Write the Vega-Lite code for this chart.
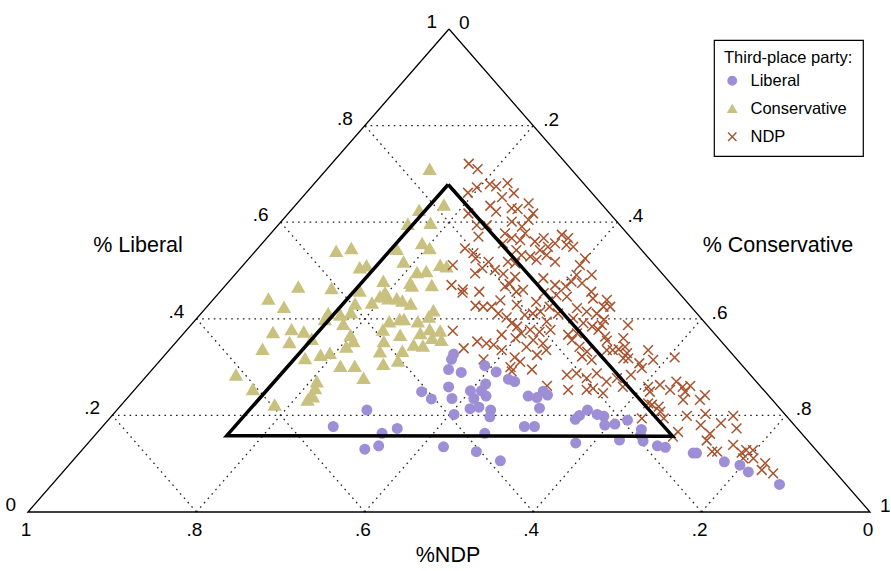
{
  "$schema": "https://vega.github.io/schema/vega-lite/v6.json",
  "width": 842,
  "height": 483,
  "autosize": {"type": "none"},
  "padding": {"left": 28, "top": 29, "right": 21, "bottom": 59},
  "background": "white",
  "config": {
    "view": {"stroke": null},
    "font": "Liberation Sans",
    "axis": {"disable": true},
    "legend": {
      "strokeColor": "black",
      "strokeWidth": 1.2,
      "fillColor": "white",
      "padding": 10,
      "titleFont": "Liberation Sans",
      "titleFontSize": 16.5,
      "titleFontWeight": "normal",
      "titleColor": "black",
      "titleLimit": 400,
      "labelFont": "Liberation Sans",
      "labelFontSize": 16.5,
      "labelColor": "black",
      "titlePadding": 6,
      "rowPadding": 11,
      "symbolSize": 70,
      "symbolStrokeWidth": 1.5,
      "labelOffset": 10
    }
  },
  "datasets": {
    "frame": [{"lib": 1, "con": 0, "o": 0}, {"lib": 0, "con": 0, "o": 1}, {"lib": 0, "con": 1, "o": 2}, {"lib": 1, "con": 0, "o": 3}],
    "region": [{"lib": 0.678, "con": 0.16, "o": 0}, {"lib": 0.158, "con": 0.157, "o": 1}, {"lib": 0.157, "con": 0.687, "o": 2}, {"lib": 0.678, "con": 0.16, "o": 3}],
    "grid": [
      {"l1": 0.2, "c1": 0, "l2": 0.2, "c2": 0.8}, {"l1": 0.4, "c1": 0, "l2": 0.4, "c2": 0.6}, {"l1": 0.6, "c1": 0, "l2": 0.6, "c2": 0.4}, {"l1": 0.8, "c1": 0, "l2": 0.8, "c2": 0.2},
      {"l1": 0, "c1": 0.2, "l2": 0.8, "c2": 0.2}, {"l1": 0, "c1": 0.4, "l2": 0.6, "c2": 0.4}, {"l1": 0, "c1": 0.6, "l2": 0.4, "c2": 0.6}, {"l1": 0, "c1": 0.8, "l2": 0.2, "c2": 0.8},
      {"l1": 0, "c1": 0.8, "l2": 0.8, "c2": 0}, {"l1": 0, "c1": 0.6, "l2": 0.6, "c2": 0}, {"l1": 0, "c1": 0.4, "l2": 0.4, "c2": 0}, {"l1": 0, "c1": 0.2, "l2": 0.2, "c2": 0}
    ],
    "leftTicks": [{"lib": 0, "t": "0"}, {"lib": 0.2, "t": ".2"}, {"lib": 0.4, "t": ".4"}, {"lib": 0.6, "t": ".6"}, {"lib": 0.8, "t": ".8"}, {"lib": 1, "t": "1"}],
    "rightTicks": [{"con": 0, "t": "0"}, {"con": 0.2, "t": ".2"}, {"con": 0.4, "t": ".4"}, {"con": 0.6, "t": ".6"}, {"con": 0.8, "t": ".8"}, {"con": 1, "t": "1"}],
    "bottomTicks": [{"ndp": 1, "t": "1"}, {"ndp": 0.8, "t": ".8"}, {"ndp": 0.6, "t": ".6"}, {"ndp": 0.4, "t": ".4"}, {"ndp": 0.2, "t": ".2"}, {"ndp": 0, "t": "0"}],
    "pts": [
      {"party": "Conservative", "lib": 0.710, "con": 0.122}, {"party": "Conservative", "lib": 0.636, "con": 0.176}, {"party": "Conservative", "lib": 0.625, "con": 0.152}, {"party": "Conservative", "lib": 0.596, "con": 0.153},
      {"party": "Conservative", "lib": 0.598, "con": 0.179}, {"party": "Conservative", "lib": 0.540, "con": 0.096}, {"party": "Conservative", "lib": 0.546, "con": 0.111}, {"party": "Conservative", "lib": 0.556, "con": 0.190},
      {"party": "Conservative", "lib": 0.546, "con": 0.204}, {"party": "Conservative", "lib": 0.544, "con": 0.166}, {"party": "Conservative", "lib": 0.506, "con": 0.141}, {"party": "Conservative", "lib": 0.510, "con": 0.147},
      {"party": "Conservative", "lib": 0.518, "con": 0.187}, {"party": "Conservative", "lib": 0.496, "con": 0.214}, {"party": "Conservative", "lib": 0.498, "con": 0.224}, {"party": "Conservative", "lib": 0.511, "con": 0.234},
      {"party": "Conservative", "lib": 0.508, "con": 0.243}, {"party": "Conservative", "lib": 0.478, "con": 0.183}, {"party": "Conservative", "lib": 0.474, "con": 0.217}, {"party": "Conservative", "lib": 0.469, "con": 0.245},
      {"party": "Conservative", "lib": 0.466, "con": 0.088}, {"party": "Conservative", "lib": 0.463, "con": 0.129}, {"party": "Conservative", "lib": 0.458, "con": 0.165}, {"party": "Conservative", "lib": 0.468, "con": 0.222},
      {"party": "Conservative", "lib": 0.441, "con": 0.065}, {"party": "Conservative", "lib": 0.424, "con": 0.092}, {"party": "Conservative", "lib": 0.431, "con": 0.173}, {"party": "Conservative", "lib": 0.433, "con": 0.192},
      {"party": "Conservative", "lib": 0.446, "con": 0.195}, {"party": "Conservative", "lib": 0.454, "con": 0.197}, {"party": "Conservative", "lib": 0.442, "con": 0.207}, {"party": "Conservative", "lib": 0.442, "con": 0.217},
      {"party": "Conservative", "lib": 0.437, "con": 0.226}, {"party": "Conservative", "lib": 0.431, "con": 0.239}, {"party": "Conservative", "lib": 0.411, "con": 0.151}, {"party": "Conservative", "lib": 0.399, "con": 0.153},
      {"party": "Conservative", "lib": 0.408, "con": 0.167}, {"party": "Conservative", "lib": 0.413, "con": 0.177}, {"party": "Conservative", "lib": 0.389, "con": 0.180}, {"party": "Conservative", "lib": 0.394, "con": 0.232},
      {"party": "Conservative", "lib": 0.399, "con": 0.242}, {"party": "Conservative", "lib": 0.399, "con": 0.247}, {"party": "Conservative", "lib": 0.394, "con": 0.266}, {"party": "Conservative", "lib": 0.404, "con": 0.274},
      {"party": "Conservative", "lib": 0.417, "con": 0.273}, {"party": "Conservative", "lib": 0.377, "con": 0.233}, {"party": "Conservative", "lib": 0.366, "con": 0.259}, {"party": "Conservative", "lib": 0.370, "con": 0.281},
      {"party": "Conservative", "lib": 0.378, "con": 0.288}, {"party": "Conservative", "lib": 0.375, "con": 0.302}, {"party": "Conservative", "lib": 0.360, "con": 0.300}, {"party": "Conservative", "lib": 0.356, "con": 0.313},
      {"party": "Conservative", "lib": 0.346, "con": 0.285}, {"party": "Conservative", "lib": 0.344, "con": 0.297}, {"party": "Conservative", "lib": 0.372, "con": 0.105}, {"party": "Conservative", "lib": 0.378, "con": 0.124},
      {"party": "Conservative", "lib": 0.373, "con": 0.141}, {"party": "Conservative", "lib": 0.351, "con": 0.135}, {"party": "Conservative", "lib": 0.358, "con": 0.158}, {"party": "Conservative", "lib": 0.337, "con": 0.110},
      {"party": "Conservative", "lib": 0.366, "con": 0.200}, {"party": "Conservative", "lib": 0.353, "con": 0.210}, {"party": "Conservative", "lib": 0.342, "con": 0.207}, {"party": "Conservative", "lib": 0.353, "con": 0.246},
      {"party": "Conservative", "lib": 0.332, "con": 0.252}, {"party": "Conservative", "lib": 0.333, "con": 0.278}, {"party": "Conservative", "lib": 0.313, "con": 0.283}, {"party": "Conservative", "lib": 0.306, "con": 0.269},
      {"party": "Conservative", "lib": 0.318, "con": 0.170}, {"party": "Conservative", "lib": 0.325, "con": 0.185}, {"party": "Conservative", "lib": 0.329, "con": 0.194}, {"party": "Conservative", "lib": 0.302, "con": 0.220},
      {"party": "Conservative", "lib": 0.302, "con": 0.237}, {"party": "Conservative", "lib": 0.277, "con": 0.260}, {"party": "Conservative", "lib": 0.284, "con": 0.105}, {"party": "Conservative", "lib": 0.254, "con": 0.140},
      {"party": "Conservative", "lib": 0.270, "con": 0.208}, {"party": "Conservative", "lib": 0.256, "con": 0.213}, {"party": "Conservative", "lib": 0.242, "con": 0.216}, {"party": "Conservative", "lib": 0.232, "con": 0.216},
      {"party": "Conservative", "lib": 0.239, "con": 0.219}, {"party": "Conservative", "lib": 0.222, "con": 0.182},
      {"party": "Liberal", "lib": 0.327, "con": 0.342}, {"party": "Liberal", "lib": 0.316, "con": 0.345}, {"party": "Liberal", "lib": 0.295, "con": 0.352}, {"party": "Liberal", "lib": 0.289, "con": 0.370},
      {"party": "Liberal", "lib": 0.303, "con": 0.391}, {"party": "Liberal", "lib": 0.290, "con": 0.411}, {"party": "Liberal", "lib": 0.275, "con": 0.433}, {"party": "Liberal", "lib": 0.270, "con": 0.443},
      {"party": "Liberal", "lib": 0.249, "con": 0.343}, {"party": "Liberal", "lib": 0.234, "con": 0.362}, {"party": "Liberal", "lib": 0.259, "con": 0.370}, {"party": "Liberal", "lib": 0.235, "con": 0.386},
      {"party": "Liberal", "lib": 0.251, "con": 0.400}, {"party": "Liberal", "lib": 0.235, "con": 0.412}, {"party": "Liberal", "lib": 0.251, "con": 0.413}, {"party": "Liberal", "lib": 0.265, "con": 0.411},
      {"party": "Liberal", "lib": 0.240, "con": 0.424}, {"party": "Liberal", "lib": 0.214, "con": 0.418}, {"party": "Liberal", "lib": 0.217, "con": 0.427}, {"party": "Liberal", "lib": 0.211, "con": 0.444},
      {"party": "Liberal", "lib": 0.197, "con": 0.450}, {"party": "Liberal", "lib": 0.202, "con": 0.405}, {"party": "Liberal", "lib": 0.211, "con": 0.297}, {"party": "Liberal", "lib": 0.177, "con": 0.274},
      {"party": "Liberal", "lib": 0.163, "con": 0.339}, {"party": "Liberal", "lib": 0.173, "con": 0.352}, {"party": "Liberal", "lib": 0.130, "con": 0.335}, {"party": "Liberal", "lib": 0.137, "con": 0.348},
      {"party": "Liberal", "lib": 0.135, "con": 0.426}, {"party": "Liberal", "lib": 0.163, "con": 0.461}, {"party": "Liberal", "lib": 0.125, "con": 0.470}, {"party": "Liberal", "lib": 0.106, "con": 0.508},
      {"party": "Liberal", "lib": 0.240, "con": 0.474}, {"party": "Liberal", "lib": 0.237, "con": 0.486}, {"party": "Liberal", "lib": 0.250, "con": 0.487}, {"party": "Liberal", "lib": 0.242, "con": 0.496},
      {"party": "Liberal", "lib": 0.215, "con": 0.500}, {"party": "Liberal", "lib": 0.177, "con": 0.501}, {"party": "Liberal", "lib": 0.177, "con": 0.513}, {"party": "Liberal", "lib": 0.192, "con": 0.554},
      {"party": "Liberal", "lib": 0.200, "con": 0.555}, {"party": "Liberal", "lib": 0.211, "con": 0.559}, {"party": "Liberal", "lib": 0.202, "con": 0.575}, {"party": "Liberal", "lib": 0.198, "con": 0.585},
      {"party": "Liberal", "lib": 0.180, "con": 0.595}, {"party": "Liberal", "lib": 0.182, "con": 0.606}, {"party": "Liberal", "lib": 0.190, "con": 0.617}, {"party": "Liberal", "lib": 0.171, "con": 0.643},
      {"party": "Liberal", "lib": 0.159, "con": 0.648}, {"party": "Liberal", "lib": 0.147, "con": 0.657}, {"party": "Liberal", "lib": 0.137, "con": 0.679}, {"party": "Liberal", "lib": 0.134, "con": 0.690},
      {"party": "Liberal", "lib": 0.149, "con": 0.628}, {"party": "Liberal", "lib": 0.143, "con": 0.579}, {"party": "Liberal", "lib": 0.122, "con": 0.729}, {"party": "Liberal", "lib": 0.122, "con": 0.733},
      {"party": "Liberal", "lib": 0.104, "con": 0.775}, {"party": "Liberal", "lib": 0.097, "con": 0.797}, {"party": "Liberal", "lib": 0.083, "con": 0.814}, {"party": "Liberal", "lib": 0.057, "con": 0.864},
      {"party": "NDP", "lib": 0.721, "con": 0.163}, {"party": "NDP", "lib": 0.710, "con": 0.179}, {"party": "NDP", "lib": 0.679, "con": 0.209}, {"party": "NDP", "lib": 0.674, "con": 0.219},
      {"party": "NDP", "lib": 0.681, "con": 0.229}, {"party": "NDP", "lib": 0.661, "con": 0.192}, {"party": "NDP", "lib": 0.672, "con": 0.197}, {"party": "NDP", "lib": 0.652, "con": 0.237},
      {"party": "NDP", "lib": 0.660, "con": 0.247}, {"party": "NDP", "lib": 0.634, "con": 0.232}, {"party": "NDP", "lib": 0.622, "con": 0.245}, {"party": "NDP", "lib": 0.629, "con": 0.260},
      {"party": "NDP", "lib": 0.627, "con": 0.268}, {"party": "NDP", "lib": 0.639, "con": 0.275}, {"party": "NDP", "lib": 0.618, "con": 0.291}, {"party": "NDP", "lib": 0.618, "con": 0.214},
      {"party": "NDP", "lib": 0.594, "con": 0.236}, {"party": "NDP", "lib": 0.570, "con": 0.250}, {"party": "NDP", "lib": 0.594, "con": 0.248}, {"party": "NDP", "lib": 0.601, "con": 0.274},
      {"party": "NDP", "lib": 0.591, "con": 0.291}, {"party": "NDP", "lib": 0.605, "con": 0.292}, {"party": "NDP", "lib": 0.577, "con": 0.278}, {"party": "NDP", "lib": 0.567, "con": 0.291},
      {"party": "NDP", "lib": 0.563, "con": 0.303}, {"party": "NDP", "lib": 0.577, "con": 0.302}, {"party": "NDP", "lib": 0.556, "con": 0.286}, {"party": "NDP", "lib": 0.542, "con": 0.309},
      {"party": "NDP", "lib": 0.560, "con": 0.322}, {"party": "NDP", "lib": 0.567, "con": 0.329}, {"party": "NDP", "lib": 0.549, "con": 0.343}, {"party": "NDP", "lib": 0.556, "con": 0.348},
      {"party": "NDP", "lib": 0.574, "con": 0.347}, {"party": "NDP", "lib": 0.567, "con": 0.358}, {"party": "NDP", "lib": 0.553, "con": 0.363}, {"party": "NDP", "lib": 0.549, "con": 0.373},
      {"party": "NDP", "lib": 0.542, "con": 0.337}, {"party": "NDP", "lib": 0.532, "con": 0.350}, {"party": "NDP", "lib": 0.518, "con": 0.367}, {"party": "NDP", "lib": 0.529, "con": 0.332},
      {"party": "NDP", "lib": 0.522, "con": 0.343}, {"party": "NDP", "lib": 0.532, "con": 0.320}, {"party": "NDP", "lib": 0.518, "con": 0.311}, {"party": "NDP", "lib": 0.515, "con": 0.321},
      {"party": "NDP", "lib": 0.546, "con": 0.246}, {"party": "NDP", "lib": 0.536, "con": 0.261}, {"party": "NDP", "lib": 0.525, "con": 0.269}, {"party": "NDP", "lib": 0.511, "con": 0.249},
      {"party": "NDP", "lib": 0.518, "con": 0.288}, {"party": "NDP", "lib": 0.494, "con": 0.284}, {"party": "NDP", "lib": 0.505, "con": 0.287}, {"party": "NDP", "lib": 0.501, "con": 0.304},
      {"party": "NDP", "lib": 0.493, "con": 0.318}, {"party": "NDP", "lib": 0.487, "con": 0.335}, {"party": "NDP", "lib": 0.470, "con": 0.268}, {"party": "NDP", "lib": 0.461, "con": 0.286},
      {"party": "NDP", "lib": 0.484, "con": 0.370}, {"party": "NDP", "lib": 0.470, "con": 0.391}, {"party": "NDP", "lib": 0.511, "con": 0.400}, {"party": "NDP", "lib": 0.525, "con": 0.399},
      {"party": "NDP", "lib": 0.491, "con": 0.424}, {"party": "NDP", "lib": 0.491, "con": 0.406}, {"party": "NDP", "lib": 0.477, "con": 0.407}, {"party": "NDP", "lib": 0.474, "con": 0.421},
      {"party": "NDP", "lib": 0.467, "con": 0.405}, {"party": "NDP", "lib": 0.454, "con": 0.289}, {"party": "NDP", "lib": 0.456, "con": 0.308}, {"party": "NDP", "lib": 0.427, "con": 0.318},
      {"party": "NDP", "lib": 0.425, "con": 0.328}, {"party": "NDP", "lib": 0.425, "con": 0.338}, {"party": "NDP", "lib": 0.438, "con": 0.342}, {"party": "NDP", "lib": 0.467, "con": 0.333},
      {"party": "NDP", "lib": 0.472, "con": 0.336}, {"party": "NDP", "lib": 0.456, "con": 0.352}, {"party": "NDP", "lib": 0.460, "con": 0.358}, {"party": "NDP", "lib": 0.429, "con": 0.366},
      {"party": "NDP", "lib": 0.411, "con": 0.353}, {"party": "NDP", "lib": 0.403, "con": 0.367}, {"party": "NDP", "lib": 0.391, "con": 0.379}, {"party": "NDP", "lib": 0.408, "con": 0.386},
      {"party": "NDP", "lib": 0.411, "con": 0.394}, {"party": "NDP", "lib": 0.415, "con": 0.401}, {"party": "NDP", "lib": 0.435, "con": 0.386}, {"party": "NDP", "lib": 0.453, "con": 0.386},
      {"party": "NDP", "lib": 0.449, "con": 0.403}, {"party": "NDP", "lib": 0.446, "con": 0.417}, {"party": "NDP", "lib": 0.456, "con": 0.441}, {"party": "NDP", "lib": 0.442, "con": 0.450},
      {"party": "NDP", "lib": 0.422, "con": 0.441}, {"party": "NDP", "lib": 0.415, "con": 0.456}, {"party": "NDP", "lib": 0.411, "con": 0.470}, {"party": "NDP", "lib": 0.425, "con": 0.471},
      {"party": "NDP", "lib": 0.425, "con": 0.407}, {"party": "NDP", "lib": 0.411, "con": 0.424}, {"party": "NDP", "lib": 0.394, "con": 0.419}, {"party": "NDP", "lib": 0.384, "con": 0.389},
      {"party": "NDP", "lib": 0.370, "con": 0.401}, {"party": "NDP", "lib": 0.377, "con": 0.408}, {"party": "NDP", "lib": 0.373, "con": 0.421}, {"party": "NDP", "lib": 0.377, "con": 0.432},
      {"party": "NDP", "lib": 0.356, "con": 0.422}, {"party": "NDP", "lib": 0.349, "con": 0.437}, {"party": "NDP", "lib": 0.335, "con": 0.448}, {"party": "NDP", "lib": 0.325, "con": 0.442},
      {"party": "NDP", "lib": 0.342, "con": 0.421}, {"party": "NDP", "lib": 0.360, "con": 0.399}, {"party": "NDP", "lib": 0.367, "con": 0.379}, {"party": "NDP", "lib": 0.353, "con": 0.357},
      {"party": "NDP", "lib": 0.349, "con": 0.370}, {"party": "NDP", "lib": 0.346, "con": 0.380}, {"party": "NDP", "lib": 0.335, "con": 0.395}, {"party": "NDP", "lib": 0.375, "con": 0.317},
      {"party": "NDP", "lib": 0.339, "con": 0.348}, {"party": "NDP", "lib": 0.316, "con": 0.383}, {"party": "NDP", "lib": 0.320, "con": 0.418}, {"party": "NDP", "lib": 0.311, "con": 0.429},
      {"party": "NDP", "lib": 0.300, "con": 0.423}, {"party": "NDP", "lib": 0.291, "con": 0.429}, {"party": "NDP", "lib": 0.295, "con": 0.451}, {"party": "NDP", "lib": 0.261, "con": 0.486},
      {"party": "NDP", "lib": 0.367, "con": 0.458}, {"party": "NDP", "lib": 0.356, "con": 0.468}, {"party": "NDP", "lib": 0.370, "con": 0.467}, {"party": "NDP", "lib": 0.342, "con": 0.484},
      {"party": "NDP", "lib": 0.332, "con": 0.498}, {"party": "NDP", "lib": 0.322, "con": 0.497}, {"party": "NDP", "lib": 0.315, "con": 0.512}, {"party": "NDP", "lib": 0.284, "con": 0.498},
      {"party": "NDP", "lib": 0.287, "con": 0.508}, {"party": "NDP", "lib": 0.277, "con": 0.525}, {"party": "NDP", "lib": 0.287, "con": 0.532}, {"party": "NDP", "lib": 0.270, "con": 0.552},
      {"party": "NDP", "lib": 0.253, "con": 0.515}, {"party": "NDP", "lib": 0.253, "con": 0.537}, {"party": "NDP", "lib": 0.256, "con": 0.543}, {"party": "NDP", "lib": 0.246, "con": 0.560},
      {"party": "NDP", "lib": 0.377, "con": 0.489}, {"party": "NDP", "lib": 0.363, "con": 0.504}, {"party": "NDP", "lib": 0.384, "con": 0.478}, {"party": "NDP", "lib": 0.391, "con": 0.464},
      {"party": "NDP", "lib": 0.401, "con": 0.447}, {"party": "NDP", "lib": 0.439, "con": 0.468}, {"party": "NDP", "lib": 0.425, "con": 0.479}, {"party": "NDP", "lib": 0.398, "con": 0.485},
      {"party": "NDP", "lib": 0.387, "con": 0.488}, {"party": "NDP", "lib": 0.387, "con": 0.519}, {"party": "NDP", "lib": 0.355, "con": 0.510}, {"party": "NDP", "lib": 0.335, "con": 0.520},
      {"party": "NDP", "lib": 0.335, "con": 0.527}, {"party": "NDP", "lib": 0.337, "con": 0.533}, {"party": "NDP", "lib": 0.360, "con": 0.527}, {"party": "NDP", "lib": 0.342, "con": 0.538},
      {"party": "NDP", "lib": 0.329, "con": 0.547}, {"party": "NDP", "lib": 0.318, "con": 0.548}, {"party": "NDP", "lib": 0.318, "con": 0.554}, {"party": "NDP", "lib": 0.335, "con": 0.569},
      {"party": "NDP", "lib": 0.315, "con": 0.585}, {"party": "NDP", "lib": 0.320, "con": 0.608}, {"party": "NDP", "lib": 0.308, "con": 0.572}, {"party": "NDP", "lib": 0.298, "con": 0.580},
      {"party": "NDP", "lib": 0.284, "con": 0.574}, {"party": "NDP", "lib": 0.277, "con": 0.561}, {"party": "NDP", "lib": 0.259, "con": 0.577}, {"party": "NDP", "lib": 0.259, "con": 0.607},
      {"party": "NDP", "lib": 0.249, "con": 0.614}, {"party": "NDP", "lib": 0.263, "con": 0.619}, {"party": "NDP", "lib": 0.253, "con": 0.636}, {"party": "NDP", "lib": 0.270, "con": 0.635},
      {"party": "NDP", "lib": 0.259, "con": 0.648}, {"party": "NDP", "lib": 0.261, "con": 0.656}, {"party": "NDP", "lib": 0.249, "con": 0.656}, {"party": "NDP", "lib": 0.232, "con": 0.662},
      {"party": "NDP", "lib": 0.242, "con": 0.683}, {"party": "NDP", "lib": 0.232, "con": 0.682}, {"party": "NDP", "lib": 0.222, "con": 0.630}, {"party": "NDP", "lib": 0.218, "con": 0.640},
      {"party": "NDP", "lib": 0.208, "con": 0.647}, {"party": "NDP", "lib": 0.194, "con": 0.632}, {"party": "NDP", "lib": 0.194, "con": 0.658}, {"party": "NDP", "lib": 0.199, "con": 0.683},
      {"party": "NDP", "lib": 0.203, "con": 0.703}, {"party": "NDP", "lib": 0.199, "con": 0.738}, {"party": "NDP", "lib": 0.180, "con": 0.709}, {"party": "NDP", "lib": 0.184, "con": 0.731},
      {"party": "NDP", "lib": 0.173, "con": 0.755}, {"party": "NDP", "lib": 0.166, "con": 0.689}, {"party": "NDP", "lib": 0.156, "con": 0.688}, {"party": "NDP", "lib": 0.162, "con": 0.729},
      {"party": "NDP", "lib": 0.148, "con": 0.732}, {"party": "NDP", "lib": 0.125, "con": 0.750}, {"party": "NDP", "lib": 0.125, "con": 0.756}, {"party": "NDP", "lib": 0.139, "con": 0.768},
      {"party": "NDP", "lib": 0.123, "con": 0.786}, {"party": "NDP", "lib": 0.128, "con": 0.789}, {"party": "NDP", "lib": 0.128, "con": 0.797}, {"party": "NDP", "lib": 0.111, "con": 0.794},
      {"party": "NDP", "lib": 0.111, "con": 0.806}, {"party": "NDP", "lib": 0.101, "con": 0.825}, {"party": "NDP", "lib": 0.087, "con": 0.828}, {"party": "NDP", "lib": 0.080, "con": 0.845},
      {"party": "NDP", "lib": 0.225, "con": 0.624}
    ]
  },
  "layer": [
    {
      "data": {"name": "grid"},
      "transform": [
        {"calculate": "datum.c1 + datum.l1 / 2", "as": "x1"},
        {"calculate": "datum.l1", "as": "y1"},
        {"calculate": "datum.c2 + datum.l2 / 2", "as": "x2"},
        {"calculate": "datum.l2", "as": "y2"}
      ],
      "mark": {"type": "rule", "color": "#222222", "strokeWidth": 1.3, "strokeDash": [1.6, 4.2]},
      "encoding": {
        "x": {"field": "x1", "type": "quantitative", "scale": {"domain": [0, 1], "nice": false, "zero": false}, "axis": null},
        "y": {"field": "y1", "type": "quantitative", "scale": {"domain": [0, 1], "nice": false, "zero": false}, "axis": null},
        "x2": {"field": "x2"},
        "y2": {"field": "y2"}
      }
    },
    {
      "data": {"name": "frame"},
      "transform": [
        {"calculate": "datum.con + datum.lib / 2", "as": "x"},
        {"calculate": "datum.lib", "as": "y"}
      ],
      "mark": {"type": "line", "color": "black", "strokeWidth": 1.3},
      "encoding": {
        "x": {"field": "x", "type": "quantitative"},
        "y": {"field": "y", "type": "quantitative"},
        "order": {"field": "o", "type": "quantitative"}
      }
    },
    {
      "data": {"name": "pts"},
      "transform": [
        {"filter": "datum.party === 'Conservative'"},
        {"calculate": "datum.con + datum.lib / 2", "as": "x"},
        {"calculate": "datum.lib", "as": "y"}
      ],
      "mark": {"type": "point", "filled": true, "opacity": 1, "strokeWidth": 1.5, "size": 140},
      "encoding": {
        "x": {"field": "x", "type": "quantitative"},
        "y": {"field": "y", "type": "quantitative"},
        "fill": {"field": "party", "type": "nominal", "title": "Third-place party:",
          "scale": {"domain": ["Liberal", "Conservative", "NDP"], "range": ["#9d8ed6", "#c9c17f", "#a8532e"]},
          "legend": {"orient": "none", "legendX": 686, "legendY": 11}},
        "stroke": {"field": "party", "type": "nominal", "title": "Third-place party:",
          "scale": {"domain": ["Liberal", "Conservative", "NDP"], "range": ["#9d8ed6", "#c9c17f", "#a8532e"]},
          "legend": {"orient": "none", "legendX": 686, "legendY": 11}},
        "shape": {"field": "party", "type": "nominal", "title": "Third-place party:",
          "scale": {"domain": ["Liberal", "Conservative", "NDP"], "range": ["circle", "triangle-up", "M-1,-1L1,1M-1,1L1,-1"]},
          "legend": {"orient": "none", "legendX": 686, "legendY": 11}}
      }
    },
    {
      "data": {"name": "pts"},
      "transform": [
        {"filter": "datum.party === 'NDP'"},
        {"calculate": "datum.con + datum.lib / 2", "as": "x"},
        {"calculate": "datum.lib", "as": "y"}
      ],
      "mark": {"type": "point", "filled": true, "opacity": 1, "strokeWidth": 1.5, "size": 95},
      "encoding": {
        "x": {"field": "x", "type": "quantitative"},
        "y": {"field": "y", "type": "quantitative"},
        "fill": {"field": "party", "type": "nominal", "title": "Third-place party:",
          "scale": {"domain": ["Liberal", "Conservative", "NDP"], "range": ["#9d8ed6", "#c9c17f", "#a8532e"]},
          "legend": {"orient": "none", "legendX": 686, "legendY": 11}},
        "stroke": {"field": "party", "type": "nominal", "title": "Third-place party:",
          "scale": {"domain": ["Liberal", "Conservative", "NDP"], "range": ["#9d8ed6", "#c9c17f", "#a8532e"]},
          "legend": {"orient": "none", "legendX": 686, "legendY": 11}},
        "shape": {"field": "party", "type": "nominal", "title": "Third-place party:",
          "scale": {"domain": ["Liberal", "Conservative", "NDP"], "range": ["circle", "triangle-up", "M-1,-1L1,1M-1,1L1,-1"]},
          "legend": {"orient": "none", "legendX": 686, "legendY": 11}}
      }
    },
    {
      "data": {"name": "pts"},
      "transform": [
        {"filter": "datum.party === 'Liberal'"},
        {"calculate": "datum.con + datum.lib / 2", "as": "x"},
        {"calculate": "datum.lib", "as": "y"}
      ],
      "mark": {"type": "point", "filled": true, "opacity": 1, "strokeWidth": 1.5, "size": 90},
      "encoding": {
        "x": {"field": "x", "type": "quantitative"},
        "y": {"field": "y", "type": "quantitative"},
        "fill": {"field": "party", "type": "nominal", "title": "Third-place party:",
          "scale": {"domain": ["Liberal", "Conservative", "NDP"], "range": ["#9d8ed6", "#c9c17f", "#a8532e"]},
          "legend": {"orient": "none", "legendX": 686, "legendY": 11}},
        "stroke": {"field": "party", "type": "nominal", "title": "Third-place party:",
          "scale": {"domain": ["Liberal", "Conservative", "NDP"], "range": ["#9d8ed6", "#c9c17f", "#a8532e"]},
          "legend": {"orient": "none", "legendX": 686, "legendY": 11}},
        "shape": {"field": "party", "type": "nominal", "title": "Third-place party:",
          "scale": {"domain": ["Liberal", "Conservative", "NDP"], "range": ["circle", "triangle-up", "M-1,-1L1,1M-1,1L1,-1"]},
          "legend": {"orient": "none", "legendX": 686, "legendY": 11}}
      }
    },
    {
      "data": {"name": "region"},
      "transform": [
        {"calculate": "datum.con + datum.lib / 2", "as": "x"},
        {"calculate": "datum.lib", "as": "y"}
      ],
      "mark": {"type": "line", "color": "black", "strokeWidth": 3.5, "strokeJoin": "miter"},
      "encoding": {
        "x": {"field": "x", "type": "quantitative"},
        "y": {"field": "y", "type": "quantitative"},
        "order": {"field": "o", "type": "quantitative"}
      }
    },
    {
      "data": {"name": "leftTicks"},
      "transform": [
        {"calculate": "datum.lib / 2", "as": "x"},
        {"calculate": "datum.lib", "as": "y"}
      ],
      "mark": {"type": "text", "align": "right", "baseline": "middle", "dx": -12, "dy": -7, "fontSize": 19, "font": "Liberation Sans", "color": "black"},
      "encoding": {
        "x": {"field": "x", "type": "quantitative"},
        "y": {"field": "y", "type": "quantitative"},
        "text": {"field": "t"}
      }
    },
    {
      "data": {"name": "rightTicks"},
      "transform": [
        {"calculate": "datum.con + (1 - datum.con) / 2", "as": "x"},
        {"calculate": "1 - datum.con", "as": "y"}
      ],
      "mark": {"type": "text", "align": "left", "baseline": "middle", "dx": 10, "dy": -6, "fontSize": 19, "font": "Liberation Sans", "color": "black"},
      "encoding": {
        "x": {"field": "x", "type": "quantitative"},
        "y": {"field": "y", "type": "quantitative"},
        "text": {"field": "t"}
      }
    },
    {
      "data": {"name": "bottomTicks"},
      "transform": [
        {"calculate": "1 - datum.ndp", "as": "x"},
        {"calculate": "0", "as": "y"}
      ],
      "mark": {"type": "text", "align": "center", "baseline": "middle", "dx": -2, "dy": 18, "fontSize": 19, "font": "Liberation Sans", "color": "black"},
      "encoding": {
        "x": {"field": "x", "type": "quantitative"},
        "y": {"field": "y", "type": "quantitative"},
        "text": {"field": "t"}
      }
    },
    {
      "data": {"values": [{}]},
      "mark": {"type": "text", "align": "center", "baseline": "middle", "fontSize": 21.5, "font": "Liberation Sans", "color": "black"},
      "encoding": {
        "x": {"datum": 0.1306, "type": "quantitative"},
        "y": {"datum": 0.5507, "type": "quantitative"},
        "text": {"value": "% Liberal"}
      }
    },
    {
      "data": {"values": [{}]},
      "mark": {"type": "text", "align": "center", "baseline": "middle", "fontSize": 21.5, "font": "Liberation Sans", "color": "black"},
      "encoding": {
        "x": {"datum": 0.8907, "type": "quantitative"},
        "y": {"datum": 0.5507, "type": "quantitative"},
        "text": {"value": "% Conservative"}
      }
    },
    {
      "data": {"values": [{}]},
      "mark": {"type": "text", "align": "center", "baseline": "middle", "fontSize": 21.5, "font": "Liberation Sans", "color": "black"},
      "encoding": {
        "x": {"datum": 0.4988, "type": "quantitative"},
        "y": {"datum": -0.0911, "type": "quantitative"},
        "text": {"value": "%NDP"}
      }
    }
  ]
}
